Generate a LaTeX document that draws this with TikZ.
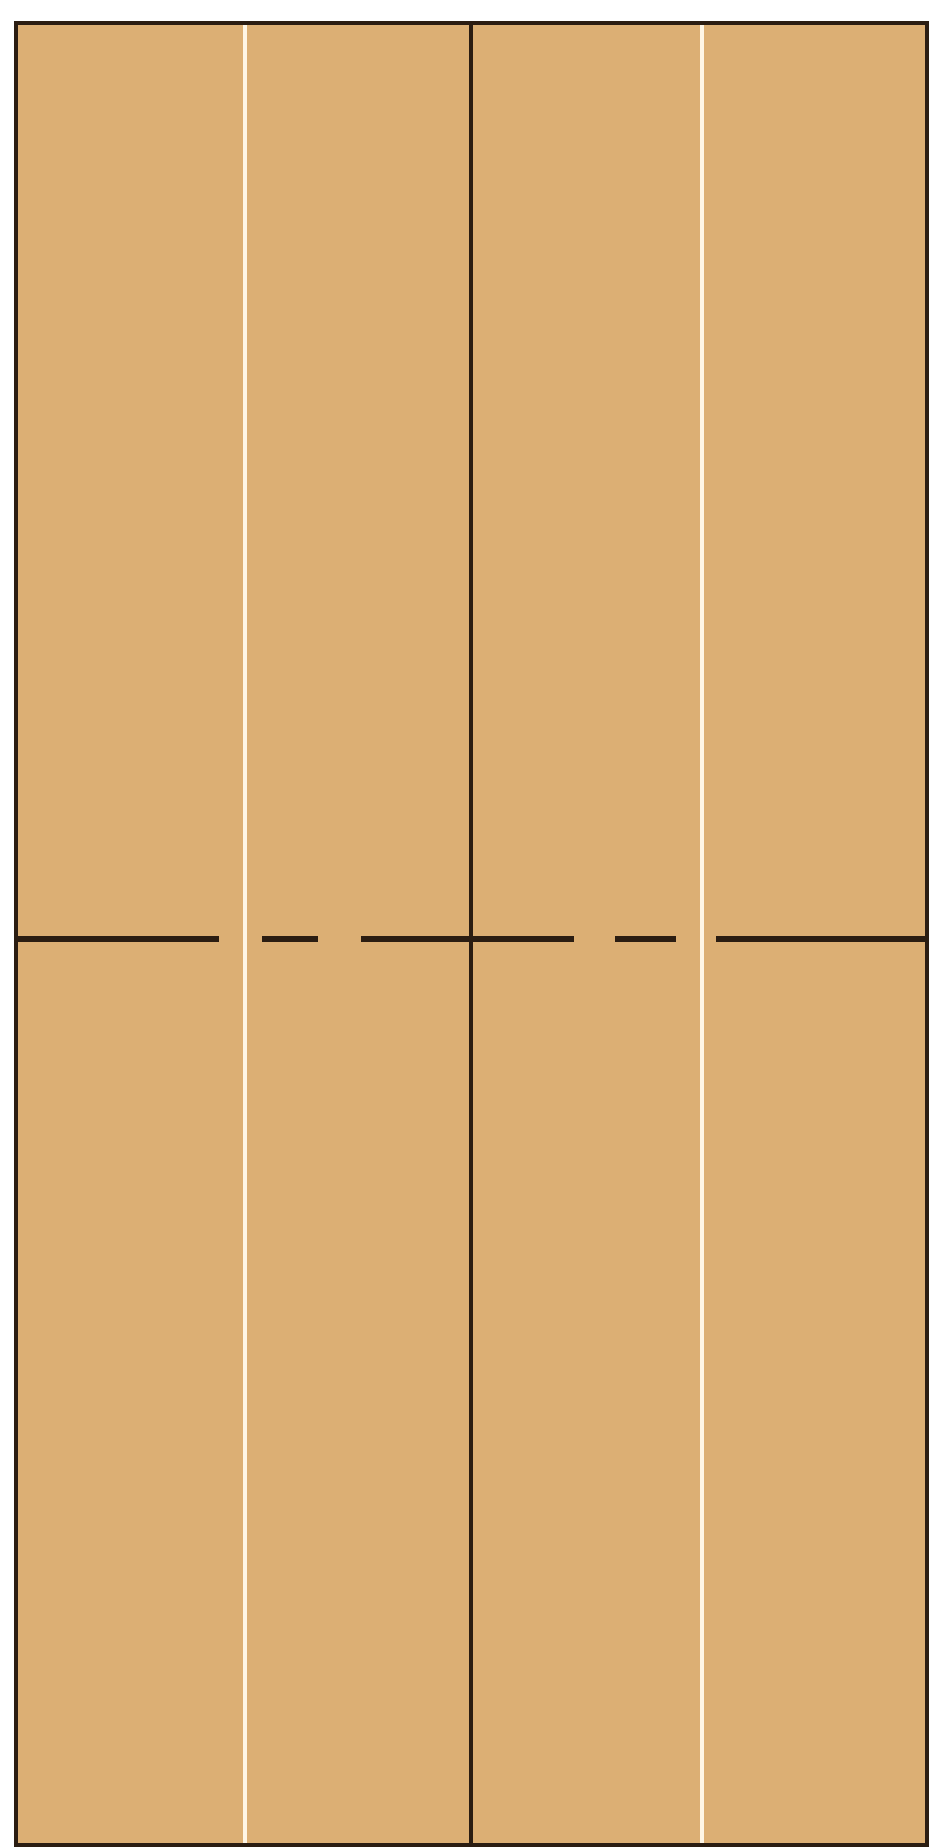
\documentclass[tikz,border=0pt]{standalone}
\definecolor{papertan}{HTML}{DCAF74}
\definecolor{ink}{HTML}{2B1D12}
\definecolor{creaseW}{HTML}{FFF6E6}
\tikzset{
  valley/.style={ink, line width=2.2pt},
  creasewhite/.style={creaseW, line width=2pt},
  border/.style={ink, line width=1.8pt},
  fold/.style={ink, line width=2.6pt}
}
\begin{document}
\begin{tikzpicture}[x=0.5pt,y=-0.5pt]
\useasboundingbox[fill=white] (0,0) rectangle (932,1847);
\fill[papertan] (16,23) rectangle (927,1845);
% white creases
\draw[creasewhite] (245,25) -- (245,1843);
\draw[creasewhite] (702,25) -- (702,1843);
% center black crease
\draw[valley] (471,23) -- (471,1845);
% horizontal dashed fold
\draw[fold] (16,939) -- (219,939);
\draw[fold] (262,939) -- (318,939);
\draw[fold] (361,939) -- (574,939);
\draw[fold] (615,939) -- (676,939);
\draw[fold] (716,939) -- (927,939);
% border
\draw[border] (16,23) rectangle (927,1845);
\end{tikzpicture}
\end{document}
